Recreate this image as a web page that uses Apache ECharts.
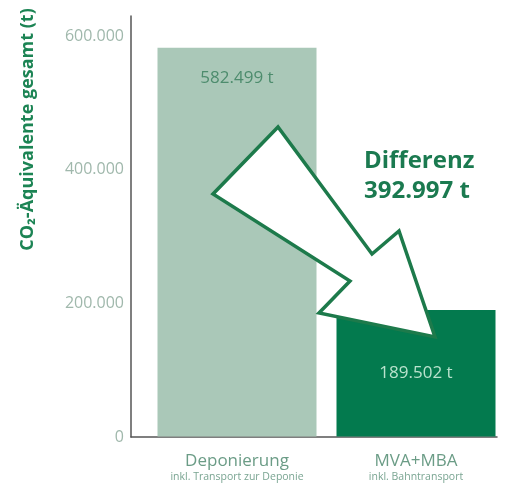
<!DOCTYPE html>
<html>
<head>
<meta charset="utf-8">
<script src="https://cdn.jsdelivr.net/npm/echarts@6/dist/echarts.min.js"></script>
<style>
  html, body { margin: 0; padding: 0; background: #fff; }
  #chart { width: 516px; height: 483px; }
</style>
</head>
<body>
<div id="chart"></div>
<script>
// data
const categories = ['Deponierung', 'MVA+MBA']
const subLabels = ['inkl. Transport zur Deponie', 'inkl. Bahntransport']
const emissions = [582499, 189502]
const barColors = ['#aac8b8', '#037a4e']
const yTicks = [0, 200000, 400000, 600000]

const fmt = v => String(v).replace(/\B(?=(\d{3})+(?!\d))/g, '.')
const diff = emissions[0] - emissions[1]

const chart = echarts.init(document.getElementById('chart'))
const font = '"Open Sans", "Noto Sans", sans-serif'

chart.setOption({
  backgroundColor: '#ffffff',
  animation: false,
  grid: [
    { left: 131, right: 19, top: 16, bottom: 46 },
    { left: 147.5, right: 10.5, top: 16, bottom: 46 }
  ],
  xAxis: [
    {
      gridIndex: 0,
      type: 'category',
      data: [''],
      axisLine: { lineStyle: { color: '#555', width: 1.5 } },
      axisTick: { show: false },
      axisLabel: { show: false }
    },
    {
      gridIndex: 1,
      type: 'category',
      data: categories,
      axisLine: { show: false },
      axisTick: { show: false },
      axisLabel: {
        interval: 0,
        hideOverlap: false,
        margin: 16,
        formatter: (v, i) => '{a|' + v + '}\n{b|' + subLabels[i] + '}',
        rich: {
          a: { fontFamily: font, fontSize: 17, color: '#6b9c86', lineHeight: 18 },
          b: { fontFamily: font, fontSize: 10.5, color: '#7aa592', lineHeight: 14 }
        }
      }
    }
  ],
  yAxis: [
    {
      gridIndex: 0,
      type: 'value',
      min: 0,
      max: 630000,
      interval: 200000,
      name: 'CO₂-Äquivalente gesamt (t)',
      nameLocation: 'middle',
      nameGap: 94,
      nameTextStyle: {
        fontFamily: font, fontSize: 18, fontWeight: 'bold', color: '#1c8454',
        padding: [0, 0, 0, 194]
      },
      axisLine: { show: true, lineStyle: { color: '#555', width: 1.5 } },
      axisTick: { show: false },
      splitLine: { show: false },
      axisLabel: {
        margin: 7,
        showMaxLabel: false,
        fontFamily: font,
        fontSize: 16,
        color: '#a0b8ac',
        formatter: v => yTicks.includes(v) ? fmt(v) : ''
      }
    },
    {
      gridIndex: 1,
      type: 'value',
      min: 0,
      max: 630000,
      show: false
    }
  ],
  series: [
    {
      type: 'bar',
      xAxisIndex: 1,
      yAxisIndex: 1,
      barWidth: 159,
      data: emissions.map((v, i) => ({
        value: v,
        itemStyle: { color: barColors[i] },
        label: i === 0
          ? { position: 'insideTop', distance: 22, color: '#4d8c6d' }
          : { position: 'inside', color: '#b9e2cd' }
      })),
      label: {
        show: true,
        fontFamily: font,
        fontSize: 17,
        formatter: p => fmt(p.value) + ' t'
      }
    }
  ],
  graphic: [
    {
      type: 'polygon',
      z: 100,
      shape: {
        points: [
          [278, 127], [213, 194], [350, 281], [319, 313],
          [435, 337], [399, 231], [372, 254]
        ]
      },
      style: { fill: '#ffffff', stroke: '#1d7a4b', lineWidth: 3.5, lineJoin: 'miter' }
    },
    {
      type: 'text',
      z: 100,
      left: 364,
      top: 146,
      style: {
        text: 'Differenz\n' + fmt(diff) + ' t',
        fontFamily: font,
        fontSize: 24,
        fontWeight: 'bold',
        lineHeight: 30,
        fill: '#1b7a50'
      }
    }
  ]
})
</script>
</body>
</html>
